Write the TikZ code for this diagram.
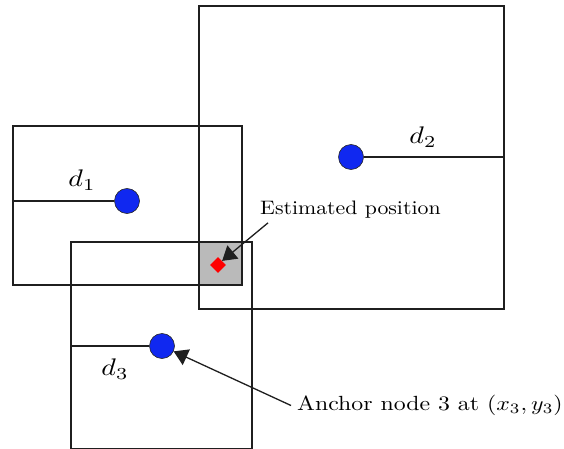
\documentclass[tikz,border=0pt]{standalone}
\usepackage{amsmath,amssymb}
\usetikzlibrary{arrows.meta,positioning,shapes.geometric}

\definecolor{anchorblue}{RGB}{16,40,240}
\newcommand{\lbltxt}[3]{\scalebox{#1}[#2]{#3}}
\newcommand{\distlbl}[1]{\scalebox{2.8}[2.4]{$#1$}}

\begin{document}
\begin{tikzpicture}[x=1pt,y=-1pt,
    box/.style={draw=black!88,line width=1.3pt},
    anchornode/.style={circle,draw=black!85,fill=anchorblue,minimum size=25pt,inner sep=0pt,line width=0.6pt},
    pointer/.style={-{Triangle[length=14pt,width=17pt]},draw=black!88,fill=black!88,line width=1.3pt},
    lbl/.style={inner sep=0pt}]

    \useasboundingbox (0,0) rectangle (564,449);

    % Overlap region
    \fill[black!27] (199,242) rectangle (242,285);

    % Range boxes
    \draw[box] (13,126) rectangle (242,285);
    \draw[box] (199,6) rectangle (504,309);
    \draw[box] (71,242) rectangle (252,449);

    % Anchor nodes
    \node[anchornode] (n1) at (127,201) {};
    \node[anchornode] (n2) at (351,157) {};
    \node[anchornode] (n3) at (162,346) {};

    % Distances
    \coordinate (e1) at (13,201);
    \coordinate (e2) at (504,157);
    \coordinate (e3) at (71,346);
    \draw[box] (e1) -- (n1);
    \draw[box] (n2) -- (e2);
    \draw[box] (e3) -- (n3);
    \node[lbl] (d1) at (82,180) {\distlbl{d_1}};
    \node[lbl] (d2) at (423,137) {\distlbl{d_2}};
    \node[lbl] (d3) at (115,369) {\distlbl{d_3}};

    % Estimated position
    \node[diamond,fill=red,minimum size=16pt,inner sep=0pt] (est) at (218,265) {};
    \node[lbl,anchor=west] (estlabel) at (260,210) {\lbltxt{2.18}{1.95}{Estimated position}};
    \draw[pointer] ([xshift=8pt,yshift=-4pt]estlabel.south west) -- (est.north east);

    % Anchor label
    \node[lbl,anchor=west] (anchorlabel) at (297,405.5) {\lbltxt{2.38}{2.05}{Anchor node 3 at $(x_3,y_3)$}};
    \draw[pointer] ([xshift=-6pt]anchorlabel.west) -- (n3);
\end{tikzpicture}
\end{document}
